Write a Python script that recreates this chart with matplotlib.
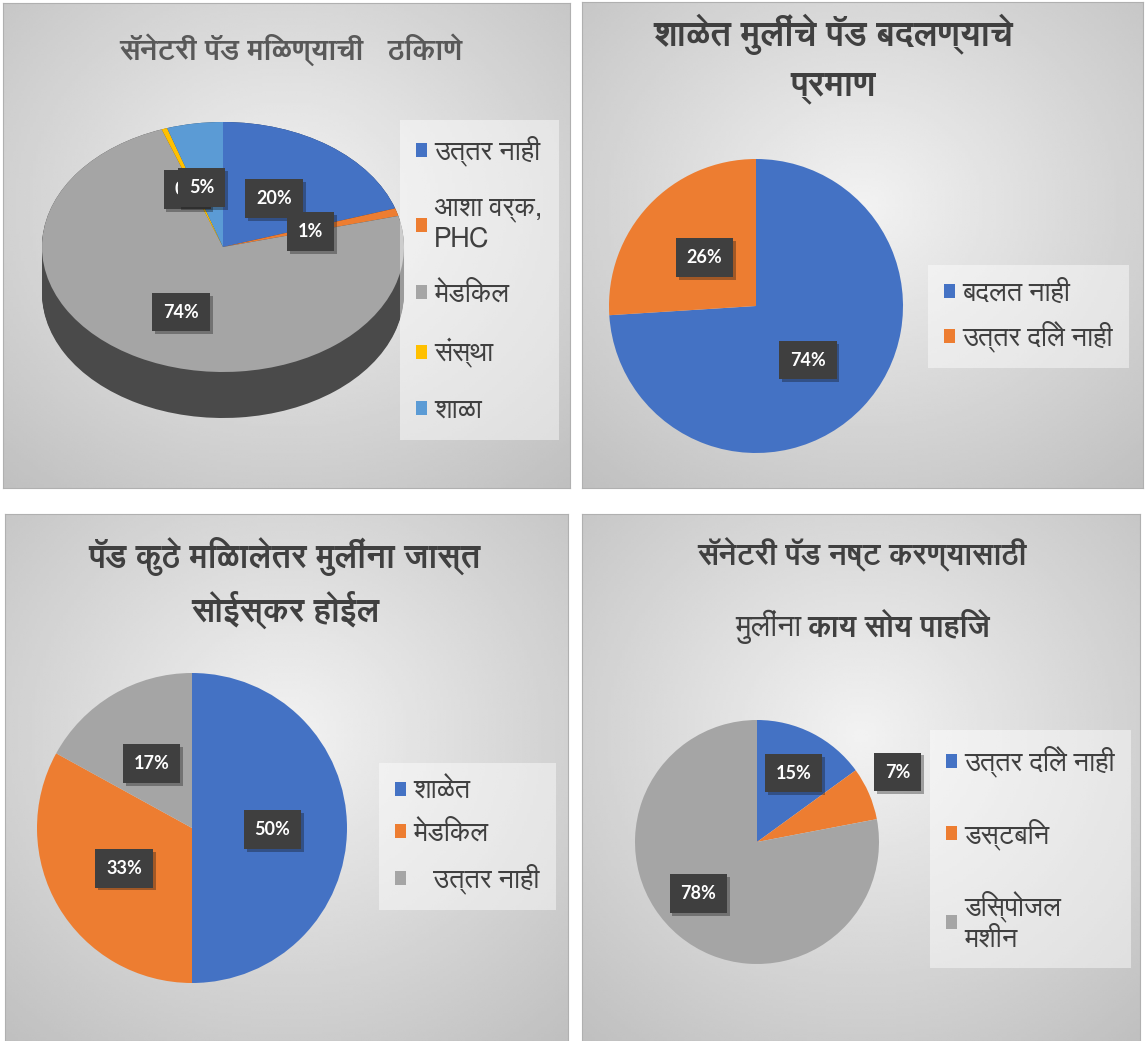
import numpy as np
import matplotlib
matplotlib.use('Agg')
import matplotlib.pyplot as plt
import matplotlib.patheffects as pe
from matplotlib import font_manager
from matplotlib.ft2font import FT2Font

W, H = 1147, 1041

# ---- data ----
src_title = 'सॅनेटरी पॅड मिळण्याची   ठिकाणे'
src_labels = ['उत्तर नाही', 'आशा वर्क,\nPHC', 'मेडिकल', 'संस्था', 'शाळा']
src_values = [20, 1, 73.5, 0.5, 5]

change_title = 'शाळेत मुलींचे पॅड बदलण्याचे\nप्रमाण'
change_labels = ['बदलत नाही', 'उत्तर दिले नाही']
change_values = [74, 26]

place_title = 'पॅड कुठे मिळालेतर मुलींना जास्त\nसोईस्कर होईल'
place_labels = ['शाळेत', 'मेडिकल', '   उत्तर नाही']
place_values = [50, 33, 17]

disp_title_1 = 'सॅनेटरी पॅड नष्ट करण्यासाठी'
disp_title_2a = 'मुलींना'
disp_title_2b = 'काय सोय पाहिजे'
disp_labels = ['उत्तर दिले नाही', 'डस्टबिन', 'डिस्पोजल\nमशीन']
disp_values = [15, 7, 78]

BLUE, ORANGE, GREY, YELLOW, LBLUE = '#4472C4', '#ED7D31', '#A5A5A5', '#FFC000', '#5B9BD5'


def find_fonts(code=0x0915):
    # installed fonts that have devanagari
    out = []
    for f in font_manager.fontManager.ttflist:
        try:
            if code in FT2Font(f.fname).get_charmap():
                out.append(f.name)
        except Exception:
            pass
    return out


cands = find_fonts()
deva = 'FreeSans' if 'FreeSans' in cands else (cands[0] if cands else None)
plt.rcParams['font.family'] = ([deva] if deva else []) + ['DejaVu Sans']

fig = plt.figure(figsize=(W / 100, H / 100), dpi=100)
fig.patch.set_facecolor('white')


def rect(x, y, w, h):
    return [x / W, 1 - (y + h) / H, w / W, h / H]


def panel(x, y, w, h):
    ax = fig.add_axes(rect(x, y, w, h))
    yy, xx = np.mgrid[0:1:200j, 0:1:200j]
    d = np.sqrt((xx - 0.5) ** 2 + (yy - 0.42) ** 2)
    ax.imshow(0.95 - 0.26 * d, cmap='gray', vmin=0, vmax=1, extent=(0, 1, 0, 1),
              aspect='auto', interpolation='bilinear')
    ax.set_xticks([])
    ax.set_yticks([])
    for s in ax.spines.values():
        s.set_color('#b0b0b0')
    return ax


def pct_labels(ax, wedges, values, dists, offsets):
    for i, (w, v) in enumerate(zip(wedges, values)):
        a = np.deg2rad((w.theta1 + w.theta2) / 2 + offsets[i])
        t = ax.text(dists[i] * np.cos(a), dists[i] * np.sin(a), f'{round(v)}%',
                    ha='center', va='center', color='white', fontsize=13,
                    fontweight='bold', family=['Lato', 'DejaVu Sans'], zorder=5 + i,
                    bbox=dict(boxstyle='square,pad=0.6', fc='#3f3f3f', ec='none'))
        t.get_bbox_patch().set_path_effects([pe.SimplePatchShadow(offset=(2, -2), alpha=0.35), pe.Normal()])


def legend(ax, wedges, labels, x, y, spacing, fs=19.5):
    lg = ax.legend(wedges, labels, loc='upper left', bbox_to_anchor=(x / W, 1 - y / H),
                   bbox_transform=fig.transFigure, fontsize=fs, labelcolor='#404040',
                   handlelength=0.42, handleheight=0.42, handletextpad=0.25,
                   labelspacing=spacing, borderpad=0.6, fancybox=False, frameon=True)
    lg.get_frame().set_facecolor('white')
    lg.get_frame().set_alpha(0.45)
    lg.get_frame().set_edgecolor('none')
    return lg


def darker(c, f=0.45):
    r, g, b = matplotlib.colors.to_rgb(c)
    return (r * f, g * f, b * f)


def flat_pie(values, colors, cx, cy, r):
    ax = fig.add_axes(rect(cx - r, cy - r, 2 * r, 2 * r))
    w, _ = ax.pie(values, colors=colors, startangle=90, counterclock=False,
                  wedgeprops=dict(linewidth=0))
    ax.set_aspect('auto')
    ax.set_xlim(-1, 1)
    ax.set_ylim(-1, 1)
    return ax, w


# ---- panel 1 : 3D pie ----
panel(3, 3, 567, 485)
cx, cy, rx, ry, depth = 223, 247, 181, 125, 46
ax1 = fig.add_axes(rect(cx - rx, cy - ry, 2 * rx, 2 * ry + depth))
cols1 = [BLUE, ORANGE, GREY, YELLOW, LBLUE]
dd = depth / ry
for k in np.linspace(dd, 0, 40):
    ax1.pie(src_values, colors=[darker(c) for c in cols1], startangle=90,
            counterclock=False, center=(0, -k), wedgeprops=dict(linewidth=0))
w1, _ = ax1.pie(src_values, colors=cols1, startangle=90, counterclock=False,
                wedgeprops=dict(linewidth=0))
ax1.set_aspect('auto')
ax1.set_xlim(-1, 1)
ax1.set_ylim(-1 - dd, 1)
pct_labels(ax1, w1, src_values, [0.48, 0.5, 0.57, 0.5, 0.49], [0, -2, 4, 4.5, 5])
lg1 = legend(ax1, w1, src_labels, 386, 106, 1.1)
lg1.set_zorder(10)
fig.text(291 / W, 1 - 50 / H, src_title, ha='center', va='center', fontsize=21,
         fontweight='bold', color='#595959')

# ---- panel 2 ----
panel(582, 2, 561, 486)
ax2, w2 = flat_pie(change_values, [BLUE, ORANGE], 756, 306, 147)
pct_labels(ax2, w2, change_values, [0.51, 0.48], [-3, 0])
legend(ax2, w2, change_labels, 914, 251, 0.5)
fig.text(833 / W, 1 - 59 / H, change_title, ha='center', va='center', fontsize=25,
         fontweight='bold', color='#404040', linespacing=1.6)

# ---- panel 3 ----
panel(5, 514, 563, 527)
ax3, w3 = flat_pie(place_values, [BLUE, ORANGE, GREY], 192, 828, 155)
pct_labels(ax3, w3, place_values, [0.52, 0.51, 0.49], [-1, 0, 1.5])
legend(ax3, w3, place_labels, 365, 749, 0.6)
fig.text(285 / W, 1 - 583 / H, place_title, ha='center', va='center', fontsize=23.5,
         fontweight='bold', color='#404040', linespacing=1.5)

# ---- panel 4 ----
panel(582, 514, 558, 527)
ax4, w4 = flat_pie(disp_values, [BLUE, ORANGE, GREY], 757, 842, 122)
pct_labels(ax4, w4, disp_values, [0.64, 1.29, 0.64], [-1, 3, -9])
legend(ax4, w4, disp_labels, 916, 716, 1.5)
fig.text(862 / W, 1 - 555 / H, disp_title_1, ha='center', va='center', fontsize=21.5,
         fontweight='bold', color='#404040')
fig.text(801 / W, 1 - 627 / H, disp_title_2a, ha='right', va='center', fontsize=21.5,
         color='#404040')
fig.text(807 / W, 1 - 627 / H, disp_title_2b, ha='left', va='center', fontsize=21.5,
         fontweight='bold', color='#404040')

fig.savefig('out.png', dpi=100, facecolor='white')
